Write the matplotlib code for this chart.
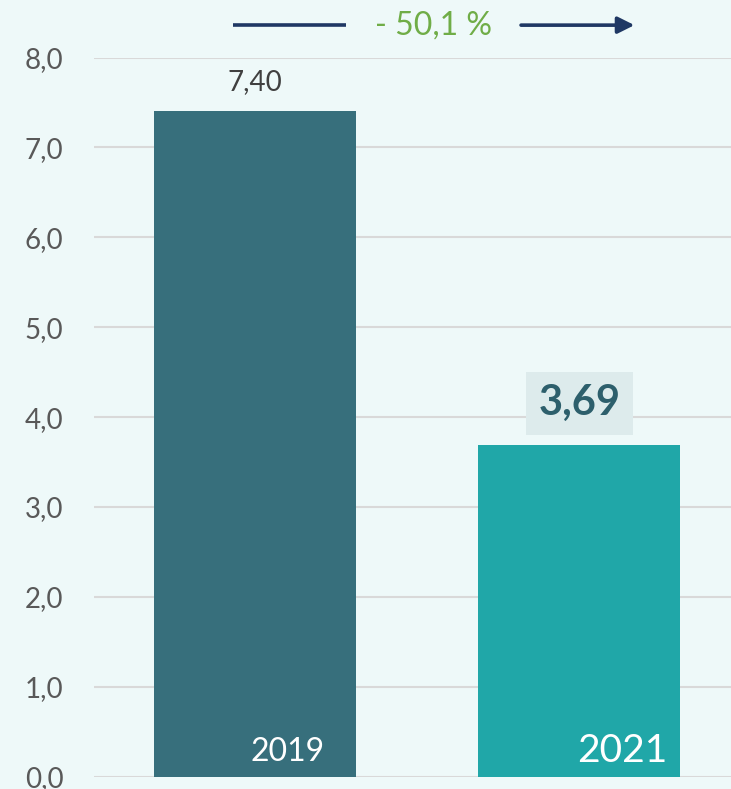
import matplotlib.pyplot as plt

years = ["2019", "2021"]
values = [7.40, 3.69]
value_labels = ["7,40", "3,69"]
change_label = "- 50,1 %"
yticks = [0, 1, 2, 3, 4, 5, 6, 7, 8]

bar_colors = ["#376F7C", "#20A7A8"]
bg = "#EEF9F9"

plt.rcParams["font.family"] = ["Lato", "DejaVu Sans"]

fig = plt.figure(figsize=(7.31, 7.89), dpi=100, facecolor=bg)
ax = fig.add_axes([94 / 731, 12.3 / 789, 637 / 731, 719.2 / 789])
ax.set_facecolor(bg)

x = list(range(len(years)))
bars = ax.bar(x, values, width=0.623, color=bar_colors, zorder=3)

ax.set_xlim(-0.498, 1.468)
ax.set_ylim(0, 8)
ax.set_yticks(yticks)
ax.set_yticklabels([f"{t:.1f}".replace(".", ",") for t in yticks])
ax.tick_params(axis="y", length=0, pad=22, labelsize=20, labelcolor="#595959")
ax.set_xticks([])
ax.grid(axis="y", color="#D9D9D9", linewidth=1.5, zorder=0)
for s in ax.spines.values():
    s.set_visible(False)

# year labels inside the bars
ax.text(x[0] + 0.1, 0.275, years[0], ha="center", va="center",
        fontsize=23, color="white", zorder=4)
ax.text(x[1] + 0.131, 0.285, years[1], ha="center", va="center",
        fontsize=28, color="white", zorder=4)

# value labels
ax.annotate(value_labels[0], (x[0], values[0]), xytext=(0, 21),
            textcoords="offset points", ha="center", va="center",
            fontsize=20, color="#404040")
ax.annotate(value_labels[1], (x[1], values[1]), xytext=(0, 30),
            textcoords="offset points", ha="center", va="center",
            fontsize=30, fontweight="bold", color="#2D5F6C",
            bbox=dict(boxstyle="square,pad=0.3", fc="#DDEBEC", ec="none"))

# change arrow on top
ytop = 8.36
navy = "#1F3864"
ax.plot([-0.07, 0.28], [ytop, ytop], color=navy, linewidth=2.6,
        clip_on=False, solid_capstyle="butt")
ax.annotate("", xy=(1.17, ytop), xytext=(0.82, ytop),
            arrowprops=dict(arrowstyle="-|>,head_length=1.0,head_width=0.5",
                            color=navy, lw=2.6, shrinkA=0, shrinkB=0),
            annotation_clip=False)
ax.text(0.55, ytop, change_label, ha="center", va="center",
        fontsize=23, color="#70AD47", clip_on=False)

fig.savefig("out.png", dpi=100, facecolor=bg)
